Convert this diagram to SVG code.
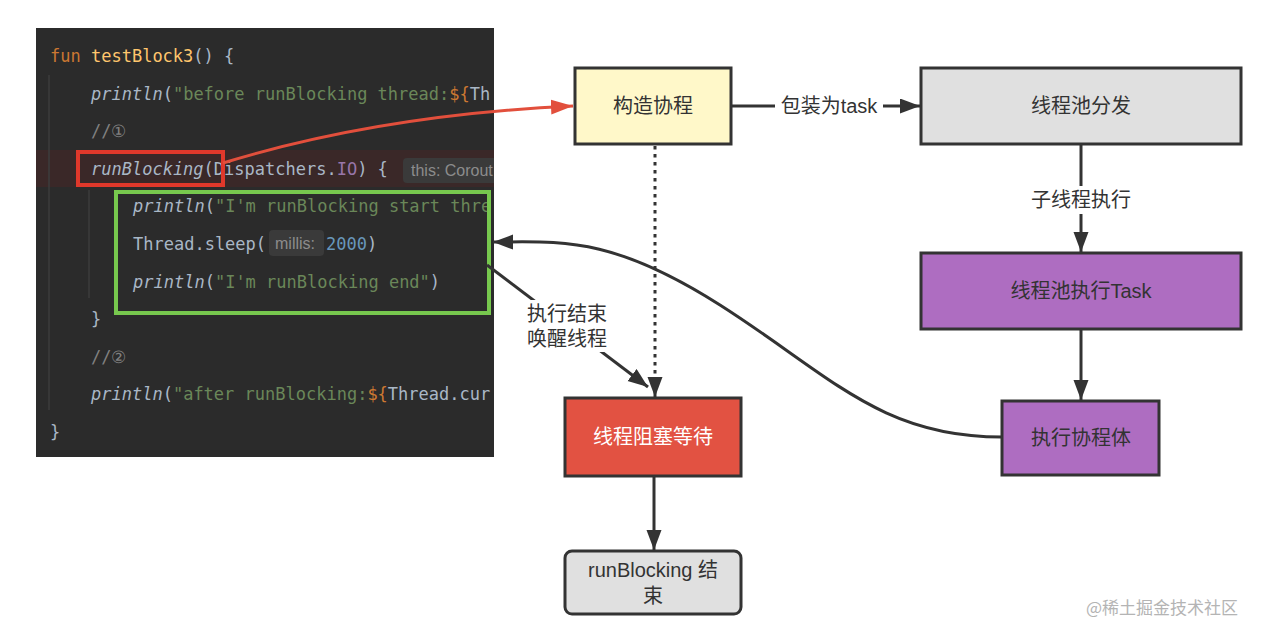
<svg xmlns="http://www.w3.org/2000/svg" width="1266" height="638" viewBox="0 0 1266 638">
<style>
.code{font-family:"DejaVu Sans Mono","Liberation Mono",monospace;font-size:17px;fill:#a9b7c6}
.it{font-style:italic}
.kw{fill:#cc7832}
.fn{fill:#ffc66d}
.str{fill:#6a8759}
.cm{fill:#808080}
.num{fill:#6897bb}
.pur{fill:#9876aa}
.hint{font-family:"Liberation Sans","Noto Sans",sans-serif;font-size:16px;fill:#8c8c8c}
.hintbox{fill:#3a3a3a}
.node rect{stroke:#333;stroke-width:3}
.lbl{font-family:"Liberation Sans","Noto Sans CJK SC",sans-serif;font-size:20px;fill:#333;text-anchor:middle}
.edge{fill:none;stroke:#333;stroke-width:3}
</style>
<defs>
<marker id="ah" markerUnits="userSpaceOnUse" markerWidth="22" markerHeight="16" refX="20" refY="7.5" orient="auto">
<path d="M0,0 L20,7.5 L0,15 z" fill="#333"/>
</marker>
<marker id="ahr" markerUnits="userSpaceOnUse" markerWidth="24" markerHeight="16" refX="22" refY="7.5" orient="auto">
<path d="M0,0 L22,7.5 L0,15 z" fill="#e24f3c"/>
</marker>
<clipPath id="cp"><rect x="36" y="28" width="458" height="429"/></clipPath>
</defs>
<rect width="1266" height="638" fill="#ffffff"/>
<g id="code-panel" clip-path="url(#cp)">
<rect x="36" y="28" width="458" height="429" fill="#2b2b2b"/>
<rect x="36" y="150" width="458" height="37" fill="#3a2828"/>
<line x1="49" y1="75" x2="49" y2="410" stroke="#3d3d3d" stroke-width="1.5"/>
<line x1="89" y1="190" x2="89" y2="298" stroke="#3d3d3d" stroke-width="1.5"/>
<text class="code" x="50" y="62"><tspan class="kw">fun</tspan> <tspan class="fn">testBlock3</tspan>() {</text>
<text class="code" x="91" y="99.5"><tspan class="it">println</tspan>(<tspan class="str">"before runBlocking thread:</tspan><tspan class="kw">${</tspan>Th</text>
<text class="code cm" x="91" y="137">//①</text>
<text class="code" x="91" y="174.5"><tspan class="it">runBlocking</tspan>(Dispatchers.<tspan class="pur">IO</tspan>) {</text>
<rect class="hintbox" x="403" y="158" width="100" height="25" rx="4"/>
<text class="hint" x="411" y="176">this: Corout</text>
<text class="code" x="133" y="212"><tspan class="it">println</tspan>(<tspan class="str">"I'm runBlocking start thre</tspan></text>
<text class="code" x="133" y="250">Thread.sleep(</text>
<rect class="hintbox" x="269" y="230" width="55" height="26" rx="4"/>
<text class="hint" x="275" y="249">millis:</text>
<text class="code" x="326" y="250"><tspan class="num">2000</tspan>)</text>
<text class="code" x="133" y="287.5"><tspan class="it">println</tspan>(<tspan class="str">"I'm runBlocking end"</tspan>)</text>
<text class="code" x="91" y="325">}</text>
<text class="code cm" x="91" y="362.5">//②</text>
<text class="code" x="91" y="400"><tspan class="it">println</tspan>(<tspan class="str">"after runBlocking:</tspan><tspan class="kw">${</tspan>Thread.cur</text>
<text class="code" x="50" y="437.5">}</text>
<rect x="78" y="152" width="145" height="33" fill="none" stroke="#e0382b" stroke-width="4"/>
<rect x="116" y="192" width="373" height="121" fill="none" stroke="#77c84e" stroke-width="4"/>
</g>
<g id="connectors">
<path d="M223,163 Q380,115 573,106" fill="none" stroke="#e24f3c" stroke-width="3" marker-end="url(#ahr)"/>
<line class="edge" x1="732" y1="106" x2="920" y2="106" marker-end="url(#ah)"/>
<rect x="775" y="92" width="108" height="28" fill="#fff"/>
<text class="lbl" x="829" y="113">包装为task</text>
<line class="edge" x1="1081" y1="144" x2="1081" y2="252" marker-end="url(#ah)"/>
<rect x="1028" y="186" width="106" height="28" fill="#fff"/>
<text class="lbl" x="1081" y="207">子线程执行</text>
<line class="edge" x1="1081" y1="329" x2="1081" y2="400" marker-end="url(#ah)"/>
<line class="edge" x1="654" y1="477" x2="654" y2="550" marker-end="url(#ah)"/>
<line x1="655" y1="146" x2="655" y2="392" stroke="#333" stroke-width="3" stroke-dasharray="3.5 4.5"/>
<line class="edge" x1="655" y1="380" x2="655" y2="397" marker-end="url(#ah)"/>
<path class="edge" d="M1002,437 C880,437 830,375 720,305 S560,242 493,242" marker-end="url(#ah)"/>
<line class="edge" x1="487" y1="265" x2="648" y2="387" marker-end="url(#ah)"/>
<rect x="522" y="300" width="90" height="52" fill="#fff"/>
<text class="lbl" x="567" y="321">执行结束</text>
<text class="lbl" x="567" y="346">唤醒线程</text>
</g>
<g id="node-construct" class="node">
<rect x="575" y="68" width="156" height="76" fill="#fff8c9"/>
<text class="lbl" x="653" y="113">构造协程</text>
</g>
<g id="node-dispatch" class="node">
<rect x="921" y="68" width="320" height="76" fill="#e0e0e0"/>
<text class="lbl" x="1081" y="113">线程池分发</text>
</g>
<g id="node-exec-task" class="node">
<rect x="921" y="253" width="320" height="76" fill="#ae6dc1"/>
<text class="lbl" x="1081" y="298">线程池执行Task</text>
</g>
<g id="node-exec-body" class="node">
<rect x="1002" y="401" width="157" height="74" fill="#ae6dc1"/>
<text class="lbl" x="1081" y="445">执行协程体</text>
</g>
<g id="node-block" class="node">
<rect x="565" y="398" width="176" height="78" fill="#e25242"/>
<text class="lbl" x="653" y="444" style="fill:#fff">线程阻塞等待</text>
</g>
<g id="node-end" class="node">
<rect x="565" y="551" width="176" height="63" rx="7" fill="#e0e0e0"/>
<text class="lbl" x="653" y="577">runBlocking 结</text>
<text class="lbl" x="653" y="603">束</text>
</g>
<text x="1086" y="614" style="font-family:'Noto Sans CJK SC',sans-serif;font-size:17px;fill:#b4b4b4">@稀土掘金技术社区</text>
</svg>
